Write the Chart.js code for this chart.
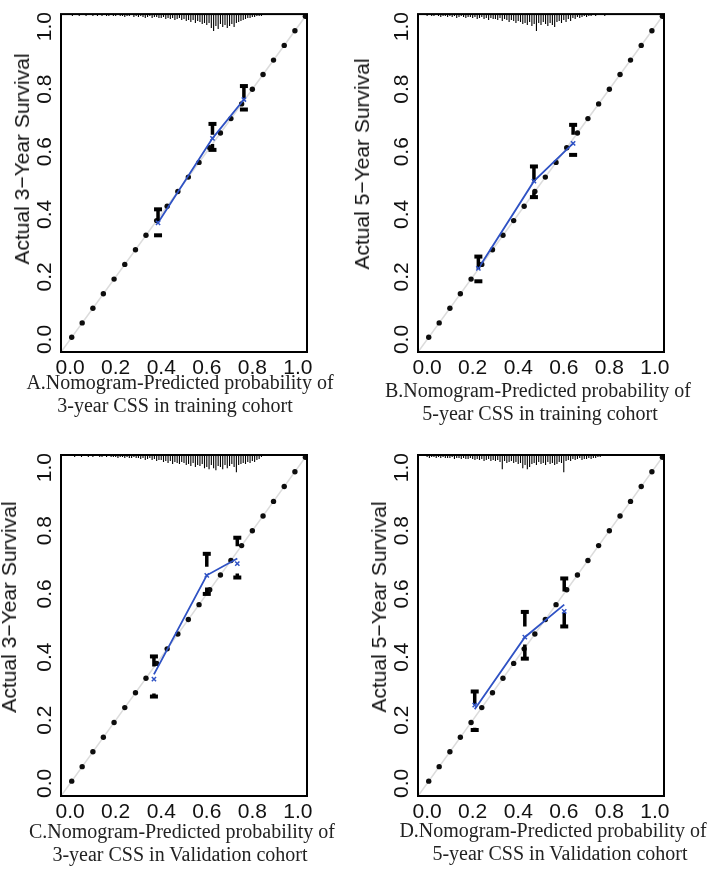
<!DOCTYPE html>
<html lang="en">
<head>
<meta charset="UTF-8">
<title>Nomogram calibration curves</title>
<script src="https://cdn.jsdelivr.net/npm/chart.js@4.4.1/dist/chart.umd.min.js"></script>
<style>
body { margin: 0; background: #fff; width: 709px; height: 869px; position: relative; overflow: hidden; }
.panel { position: absolute; }
.ytitle { position: absolute; font: 21px 'Liberation Sans', Arial, sans-serif; color: #111; white-space: nowrap; transform: translate(-50%, -50%) rotate(-90deg); }
.cap { position: absolute; font: 20px 'Liberation Serif', 'Times New Roman', serif; color: #222; white-space: nowrap; transform: translateX(-50%); line-height: 23px; }
</style>
</head>
<body>

<div class="panel" style="left:0;top:0;width:354px;height:380px"><canvas id="chartA"></canvas></div>
<div class="panel" style="left:354px;top:0;width:355px;height:380px"><canvas id="chartB"></canvas></div>
<div class="panel" style="left:0;top:420px;width:354px;height:404px"><canvas id="chartC"></canvas></div>
<div class="panel" style="left:354px;top:420px;width:355px;height:404px"><canvas id="chartD"></canvas></div>

<div class="ytitle" style="left:22px;top:159px">Actual 3−Year Survival</div>
<div class="ytitle" style="left:362px;top:164px">Actual 5−Year Survival</div>
<div class="ytitle" style="left:9px;top:607px">Actual 3−Year Survival</div>
<div class="ytitle" style="left:379px;top:607px">Actual 5−Year Survival</div>

<div class="cap" style="left:180px;top:371px">A.Nomogram-Predicted probability of</div>
<div class="cap" style="left:175px;top:394px">3-year CSS in training cohort</div>
<div class="cap" style="left:538px;top:379px">B.Nomogram-Predicted probability of</div>
<div class="cap" style="left:540px;top:402px">5-year CSS in training cohort</div>
<div class="cap" style="left:182px;top:820px">C.Nomogram-Predicted probability of</div>
<div class="cap" style="left:180px;top:843px">3-year CSS in Validation cohort</div>
<div class="cap" style="left:553px;top:819px">D.Nomogram-Predicted probability of</div>
<div class="cap" style="left:560px;top:842px">5-year CSS in Validation cohort</div>

<script>
const tickValues = [0, 0.2, 0.4, 0.6, 0.8, 1.0];
const tickLabels = ['0.0', '0.2', '0.4', '0.6', '0.8', '1.0'];
const axisMin = -0.04;
const axisMax = 1.04;

// dotted ideal line (y = x), dot positions
const refDots = [0.007, 0.053, 0.100, 0.146, 0.193, 0.240, 0.287, 0.333, 0.380, 0.426, 0.473, 0.519,
    0.566, 0.613, 0.660, 0.706, 0.753, 0.800, 0.847, 0.893, 0.940, 0.987, 1.033];

// rug of predicted probabilities along the top (relative frequency)
const rugX = [0.00, 0.01, 0.02, 0.03, 0.04, 0.05, 0.06, 0.07, 0.08, 0.09,
    0.10, 0.11, 0.12, 0.13, 0.14, 0.15, 0.16, 0.17, 0.18, 0.19,
    0.20, 0.21, 0.22, 0.23, 0.24, 0.25, 0.26, 0.27, 0.28, 0.29,
    0.30, 0.31, 0.32, 0.33, 0.34, 0.35, 0.36, 0.37, 0.38, 0.39,
    0.40, 0.41, 0.42, 0.43, 0.44, 0.45, 0.46, 0.47, 0.48, 0.49,
    0.50, 0.51, 0.52, 0.53, 0.54, 0.55, 0.56, 0.57, 0.58, 0.59,
    0.60, 0.61, 0.62, 0.63, 0.64, 0.65, 0.66, 0.67, 0.68, 0.69,
    0.70, 0.71, 0.72, 0.73, 0.74, 0.75, 0.76, 0.77, 0.78, 0.79,
    0.80, 0.81, 0.82, 0.83, 0.84, 0.85, 0.86, 0.87, 0.88, 0.89,
    0.90, 0.91, 0.92, 0.93, 0.94, 0.95, 0.96, 0.97, 0.98, 0.99, 1.00];
const rugA = [1, 2, 1, 1, 2, 1, 1, 2, 1, 1,  2, 1, 2, 1, 2, 1, 2, 2, 1, 2,
    2, 1, 2, 2, 3, 2, 2, 1, 3, 2,  3, 2, 3, 4, 3, 2, 4, 3, 3, 4,
    4, 3, 5, 4, 5, 4, 6, 5, 4, 6,  5, 7, 6, 8, 6, 9, 7, 8, 10, 9,
    11, 9, 14, 17, 12, 15, 10, 13, 11, 14,  12, 10, 13, 9, 8, 7, 6, 5, 4, 4,
    3, 3, 2, 2, 2, 1, 1, 1, 1, 1,  1, 1, 0, 1, 0, 0, 0, 0, 0, 0, 0];
const rugB = [2, 1, 2, 2, 1, 2, 3, 2, 2, 3,  2, 3, 2, 4, 3, 2, 3, 4, 3, 3,
    4, 3, 5, 4, 3, 5, 4, 6, 4, 5,  5, 6, 4, 7, 5, 6, 8, 6, 7, 9,
    7, 8, 10, 9, 11, 8, 12, 10, 17, 9,  11, 8, 10, 12, 9, 11, 13, 8, 7, 9,
    6, 8, 5, 7, 4, 5, 3, 4, 3, 2,  3, 2, 2, 1, 2, 1, 1, 1, 2, 1,
    1, 1, 1, 1, 1, 0, 0, 0, 0, 0,  0, 0, 0, 0, 0, 0, 0, 0, 0, 0, 0];
const rugC = [1, 1, 2, 1, 1, 2, 1, 1, 2, 1,  2, 1, 1, 2, 2, 1, 2, 1, 2, 2,
    2, 3, 2, 2, 3, 2, 3, 3, 2, 3,  3, 4, 3, 5, 4, 3, 5, 4, 6, 5,
    5, 7, 6, 8, 6, 9, 7, 8, 9, 7,  8, 10, 9, 11, 8, 12, 10, 11, 9, 13,
    12, 14, 10, 13, 15, 11, 12, 14, 10, 13,  11, 9, 12, 17, 10, 9, 8, 9, 7, 8,
    6, 7, 5, 4, 2, 1, 0, 0, 0, 0,  0, 0, 0, 0, 0, 0, 0, 0, 0, 0, 0];
const rugD = [2, 3, 2, 2, 3, 2, 3, 2, 3, 3,  3, 2, 4, 3, 3, 4, 3, 4, 4, 3,
    4, 5, 4, 5, 4, 6, 5, 4, 6, 5,  6, 5, 7, 14, 6, 8, 7, 6, 8, 7,
    9, 8, 13, 10, 14, 12, 9, 8, 10, 7,  9, 8, 10, 7, 9, 8, 10, 9, 7, 8,
    17, 6, 5, 6, 4, 5, 4, 3, 5, 4,  4, 3, 4, 3, 3, 2, 2, 0, 0, 0,
    0, 0, 0, 0, 0, 0, 0, 0, 0, 0,  0, 0, 0, 0, 0, 0, 0, 0, 0, 0, 0];
const rugUnit = 0.0032;

// A: 3-year, training
const predA = [0.386, 0.625, 0.763];
const obsA = [0.373, 0.643, 0.767];
const corrA = [0.373, 0.643, 0.767];
const ciHiA = [0.416, 0.689, 0.810];
const ciHiEndA = [0.379, 0.654, 0.770];
const ciLoEndA = [0.333, 0.625, 0.735];
const ciLoA = [0.333, 0.606, 0.735];

// B: 5-year, training
const predB = [0.225, 0.469, 0.641];
const obsB = [0.227, 0.506, 0.627];
const corrB = [0.227, 0.506, 0.627];
const ciHiB = [0.265, 0.553, 0.686];
const ciHiEndB = [0.225, 0.506, 0.654];
const ciLoEndB = [0.190, 0.470, 0.590];
const ciLoB = [0.186, 0.455, 0.590];

// C: 3-year, validation
const predC = [0.368, 0.600, 0.734];
const obsC = [0.345, 0.659, 0.712];
const corrC = [0.330, 0.659, 0.696];
const ciHiC = [0.402, 0.727, 0.778];
const ciHiEndC = [0.370, 0.686, 0.751];
const ciLoEndC = [0.285, 0.620, 0.665];
const ciLoC = [0.275, 0.600, 0.652];

// D: 5-year, validation
const predD = [0.209, 0.429, 0.602];
const obsD = [0.235, 0.463, 0.566];
const corrD = [0.248, 0.463, 0.545];
const ciHiD = [0.291, 0.543, 0.649];
const ciHiEndD = [0.249, 0.497, 0.608];
const ciLoEndD = [0.176, 0.440, 0.540];
const ciLoD = [0.169, 0.395, 0.497];

const blue = '#2f52c4';
const tickFont = { family: "'Liberation Sans', Arial, sans-serif", size: 21 };

// box around the plot region
const framePlugin = {
    id: 'frame',
    afterDatasetsDraw(chart) {
        const { ctx, chartArea: a } = chart;
        ctx.save();
        ctx.strokeStyle = '#000';
        ctx.lineWidth = 2;
        ctx.strokeRect(a.left, a.top, a.right - a.left, a.bottom - a.top);
        ctx.restore();
    }
};

function drawPanel(id, pred, obs, corr, hi, hiEnd, loEnd, lo, rug, box) {
    const rugLines = [];
    rugX.forEach((x, i) => {
        if (rug[i] > 0) {
            rugLines.push({ x: x, y: axisMax }, { x: x, y: axisMax - rug[i] * rugUnit }, { x: x, y: null });
        }
    });
    const bars = [];
    const caps = [];
    pred.forEach((x, i) => {
        bars.push({ x: x, y: hi[i] }, { x: x, y: hiEnd[i] }, { x: x, y: null },
            { x: x, y: loEnd[i] }, { x: x, y: lo[i] }, { x: x, y: null });
        caps.push({ x: x, y: hi[i] }, { x: x, y: lo[i] });
    });

    new Chart(document.getElementById(id), {
        type: 'scatter',
        data: {
            datasets: [
                { // ideal line
                    data: [{ x: axisMin, y: axisMin }, { x: axisMax, y: axisMax }],
                    showLine: true, borderColor: '#dcdcdc', borderWidth: 1.6, pointRadius: 0, order: 10
                },
                { // dotted ideal line
                    data: refDots.map(v => ({ x: v, y: v })),
                    pointRadius: 2.7, pointBackgroundColor: '#0d0d0d', pointBorderWidth: 0, order: 9
                },
                { // apparent curve
                    data: pred.map((x, i) => ({ x: x, y: obs[i] })),
                    showLine: true, borderColor: blue, borderWidth: 1.8, pointRadius: 0, order: 8
                },
                { // bias-corrected marks
                    data: pred.map((x, i) => ({ x: x, y: corr[i] })),
                    pointStyle: 'crossRot', pointRadius: 3, pointBorderColor: blue, pointBorderWidth: 1.5, order: 3
                },
                { // error bars
                    data: bars,
                    showLine: true, spanGaps: false, borderColor: '#000', borderWidth: 3.5, pointRadius: 0, order: 5
                },
                { // error bar caps
                    data: caps,
                    pointStyle: 'line', pointRadius: 4, pointBorderColor: '#000', pointBorderWidth: 4, order: 4
                },
                { // rug
                    data: rugLines,
                    showLine: true, spanGaps: false, borderColor: '#000', borderWidth: 1.1, pointRadius: 0, order: 2
                }
            ]
        },
        options: {
            responsive: true,
            maintainAspectRatio: false,
            animation: false,
            events: [],
            layout: { padding: { left: 0, top: box.top, right: box.right, bottom: 0 } },
            plugins: { legend: { display: false }, tooltip: { enabled: false } },
            scales: {
                x: {
                    type: 'linear', min: axisMin, max: axisMax,
                    grid: { display: false, drawTicks: false },
                    border: { display: false },
                    afterBuildTicks: s => { s.ticks = tickValues.map(v => ({ value: v })); },
                    afterFit: s => { s.height = box.xh; },
                    ticks: {
                        callback: v => tickLabels[tickValues.indexOf(v)],
                        font: tickFont, color: '#111', padding: 4, maxRotation: 0, autoSkip: false
                    }
                },
                y: {
                    type: 'linear', min: axisMin, max: axisMax,
                    grid: { display: false, drawTicks: false },
                    border: { display: false },
                    afterBuildTicks: s => { s.ticks = tickValues.map(v => ({ value: v })); },
                    afterFit: s => { s.width = box.yw; },
                    ticks: {
                        callback: v => tickLabels[tickValues.indexOf(v)],
                        font: tickFont, color: '#111', padding: 1.5,
                        minRotation: 90, maxRotation: 90, crossAlign: 'center', autoSkip: false
                    }
                }
            }
        },
        plugins: [framePlugin]
    });
}

drawPanel('chartA', predA, obsA, corrA, ciHiA, ciHiEndA, ciLoEndA, ciLoA, rugA, { yw: 61, top: 11, right: 47, xh: 28 });
drawPanel('chartB', predB, obsB, corrB, ciHiB, ciHiEndB, ciLoEndB, ciLoB, rugB, { yw: 64, top: 11, right: 45, xh: 28 });
drawPanel('chartC', predC, obsC, corrC, ciHiC, ciHiEndC, ciLoEndC, ciLoC, rugC, { yw: 61, top: 35, right: 47, xh: 28 });
drawPanel('chartD', predD, obsD, corrD, ciHiD, ciHiEndD, ciLoEndD, ciLoD, rugD, { yw: 64, top: 35, right: 45, xh: 28 });
</script>
</body>
</html>
